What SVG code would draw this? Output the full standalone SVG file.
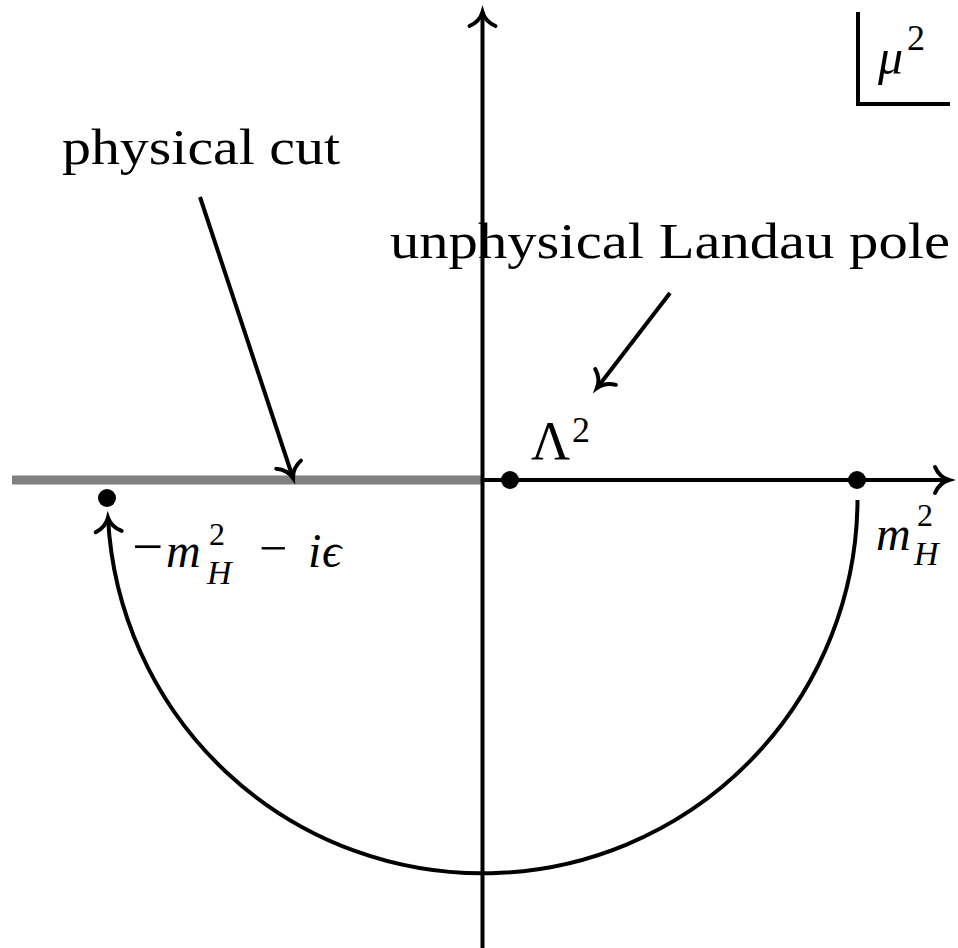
<svg xmlns="http://www.w3.org/2000/svg" width="958" height="948" viewBox="0 0 958 948">
<style>
.ln{fill:none;stroke:#000;stroke-width:4}
.txt{font-family:"Liberation Serif","DejaVu Serif",serif;fill:#000}
.it{font-style:italic}
.dot{fill:#000}
</style>
<defs>
<marker id="to" markerUnits="userSpaceOnUse" markerWidth="40" markerHeight="40" viewBox="-20 -20 40 40" refX="0" refY="0" orient="auto" overflow="visible">
<path d="M-14,-13 C-11,-6 -5,-1.5 0,0 C-5,1.5 -11,6 -14,13" fill="none" stroke="#000" stroke-width="4" stroke-linecap="round"/>
</marker>
</defs>
<rect width="958" height="948" fill="#fff"/>
<g id="connectors">
<line x1="12" y1="480" x2="482" y2="480" stroke="#808080" stroke-width="9"/>
<line class="ln" x1="482" y1="480" x2="949" y2="480" marker-end="url(#to)"/>
<line class="ln" x1="482.5" y1="948" x2="482.5" y2="12" marker-end="url(#to)"/>
<path class="ln" d="M857.5,500 A375,375 0 0 1 108,517.6" marker-end="url(#to)"/>
<line class="ln" x1="200" y1="197" x2="293" y2="478" marker-end="url(#to)"/>
<line class="ln" x1="670" y1="293" x2="597" y2="388" marker-end="url(#to)"/>
</g>
<g id="mu-box">
<path class="ln" d="M858,12 V104 H950"/>
<text class="txt it" x="878" y="74" font-size="50">μ</text>
<text class="txt" x="907" y="50" font-size="36">2</text>
</g>
<g id="label-physical-cut">
<text class="txt" x="62" y="164" font-size="50" textLength="278" lengthAdjust="spacingAndGlyphs">physical cut</text>
</g>
<g id="label-landau">
<text class="txt" x="390" y="258" font-size="50" textLength="560" lengthAdjust="spacingAndGlyphs">unphysical Landau pole</text>
</g>
<g id="point-lambda">
<circle class="dot" cx="510" cy="480" r="9"/>
<text class="txt" x="531" y="459" font-size="54">Λ</text>
<text class="txt" x="572" y="442" font-size="36">2</text>
</g>
<g id="point-mH">
<circle class="dot" cx="857" cy="480" r="9"/>
<text class="txt it" x="876" y="550" font-size="48">m</text>
<text class="txt" x="917" y="526" font-size="32">2</text>
<text class="txt it" x="914" y="565" font-size="34">H</text>
</g>
<g id="point-minus-mH">
<circle class="dot" cx="107" cy="498" r="9"/>
<text class="txt" x="132" y="565" font-size="55">−</text>
<text class="txt it" x="166" y="567" font-size="48">m</text>
<text class="txt" x="209" y="545" font-size="32">2</text>
<text class="txt it" x="207" y="584" font-size="34">H</text>
<text class="txt" x="259" y="565" font-size="50">−</text>
<text class="txt it" x="308" y="567" font-size="48">i</text>
<text class="txt it" x="322" y="567" font-size="48">ϵ</text>
</g>
</svg>
